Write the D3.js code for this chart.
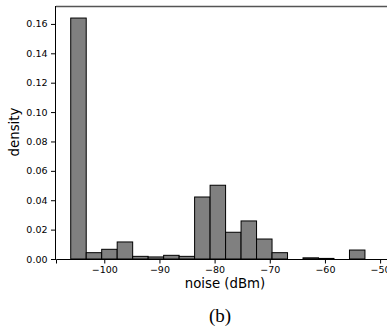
<!DOCTYPE html>
<html>
<head>
<meta charset="utf-8">
<script src="https://cdn.jsdelivr.net/npm/d3@7"></script>
<style>
  html, body { margin: 0; padding: 0; background: #fff; }
  svg { display: block; }
  text { font-family: "DejaVu Sans", sans-serif; fill: #000; }
</style>
</head>
<body>
<svg id="chart" width="387" height="331"></svg>
<script>
// Histogram of noise floor readings (dBm), normalised to density
const binStart = -106.08;
const binWidth = 2.807;
const densities = [0.164, 0.0043, 0.0066, 0.0116, 0.0018, 0.0014, 0.0025, 0.0018,
                   0.0422, 0.0502, 0.0182, 0.0259, 0.0136, 0.0043, 0.0, 0.0008,
                   0.0004, 0.0, 0.0061];
const xTicks = [-100, -90, -80, -70, -60, -50];
const yTicks = [0.00, 0.02, 0.04, 0.06, 0.08, 0.10, 0.12, 0.14, 0.16];

const bins = densities.map((d, i) => ({
  x0: binStart + i * binWidth,
  x1: binStart + (i + 1) * binWidth,
  value: d
}));

const svg = d3.select("#chart");
const plotLeft = 56, plotRight = 395, plotTop = 6, plotBottom = 259;

const x = d3.scaleLinear().domain([-108.75, -47.3]).range([plotLeft, plotRight]);
const y = d3.scaleLinear().domain([0, 0.1722]).range([plotBottom, plotTop]);

// frame
svg.append("line").attr("x1", plotLeft).attr("x2", plotRight)
  .attr("y1", plotTop + 0.5).attr("y2", plotTop + 0.5)
  .attr("stroke", "#555").attr("stroke-width", 1.6);

// bars
svg.append("g").selectAll("rect").data(bins).join("rect")
  .attr("x", d => x(d.x0))
  .attr("y", d => y(d.value))
  .attr("width", d => x(d.x1) - x(d.x0))
  .attr("height", d => y(0) - y(d.value))
  .attr("fill", "#808080")
  .attr("stroke", "#000")
  .attr("stroke-width", 1);

// axes
const xAxis = d3.axisBottom(x).tickValues(xTicks).tickSize(4.5).tickPadding(3)
  .tickFormat(d => "\u2212" + Math.abs(d));
const gx = svg.append("g").attr("transform", `translate(0,${plotBottom})`).call(xAxis);
gx.select(".domain").attr("stroke", "#000").attr("stroke-width", 1);
gx.selectAll("text").attr("font-size", 9.5).style("font-family", "DejaVu Sans");

const yAxis = d3.axisLeft(y).tickValues(yTicks).tickSize(5).tickPadding(3.5)
  .tickFormat(d3.format(".2f"));
const gy = svg.append("g").attr("transform", `translate(${plotLeft},0)`).call(yAxis);
gy.select(".domain").attr("stroke", "#000").attr("stroke-width", 1)
  .attr("d", `M-0.5,${plotBottom}V${plotTop}`);
gy.selectAll("text").attr("font-size", 9.5).style("font-family", "DejaVu Sans");

// axis titles
svg.append("text").attr("x", 225).attr("y", 288).attr("text-anchor", "middle")
  .attr("font-size", 13.3).text("noise (dBm)");
svg.append("text").attr("transform", "translate(19,132) rotate(-90)")
  .attr("text-anchor", "middle").attr("font-size", 13.3).text("density");

// panel caption
svg.append("text").attr("x", 220).attr("y", 322).attr("text-anchor", "middle")
  .style("font-family", "'Liberation Serif', 'DejaVu Serif', serif")
  .attr("font-size", 19).text("(b)");
</script>
</body>
</html>
